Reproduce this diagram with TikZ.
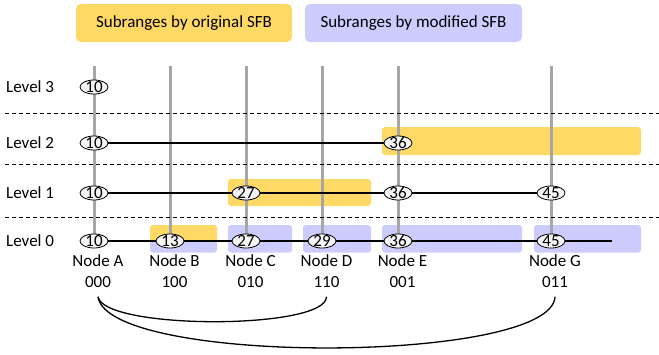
\documentclass[tikz,border=0pt]{standalone}
\usepackage{fontspec}
\setmainfont{Carlito}
\usetikzlibrary{shapes.geometric}
\definecolor{yel}{RGB}{255,217,102}
\definecolor{pur}{RGB}{204,204,255}
\definecolor{gry}{RGB}{166,166,166}
\newcommand\numtxt[1]{\smash{\raisebox{-0.5\height}{#1}}}
\pgfdeclarelayer{bg}
\pgfdeclarelayer{mid}
\pgfsetlayers{bg,mid,main}
\begin{document}
\begin{tikzpicture}[x=1pt,y=-1pt,font=\fontsize{17}{20}\selectfont,
  num/.style={ellipse,draw,fill=gray!8,line width=0.8pt,minimum width=28pt,minimum height=14pt,inner sep=0pt},
  lvl/.style={anchor=west,inner sep=0pt},
  lbl/.style={inner sep=0pt},
  gridline/.style={draw=gry,line width=3pt},
  conn/.style={draw,line width=1.2pt},
  arc/.style={draw,line width=1.3pt},
  sep/.style={draw,dash pattern=on 4pt off 3pt,line width=0.9pt},
  legend/.style={rounded corners=5pt,minimum height=38pt,inner sep=0pt}]
\useasboundingbox (0,0) rectangle (659,354);

% legend
\node[legend,fill=yel,minimum width=216pt] (leg1) at (184,23) {Subranges by original SFB};
\node[legend,fill=pur,minimum width=217pt] (leg2) at (413.5,23) {Subranges by modified SFB};

% level labels
\node[lvl] (L3) at (6,87) {Level 3};
\node[lvl] (L2) at (6,143) {Level 2};
\node[lvl] (L1) at (6,193) {Level 1};
\node[lvl] (L0) at (6,241) {Level 0};

% separators
\coordinate (s1l) at (5,113.7); \coordinate (s1r) at (659,113.7);
\coordinate (s2l) at (5,164);   \coordinate (s2r) at (659,164);
\coordinate (s3l) at (5,217.3); \coordinate (s3r) at (659,217.3);
\draw[sep] (s1l) -- (s1r);
\draw[sep] (s2l) -- (s2r);
\draw[sep] (s3l) -- (s3r);

% subrange boxes
\begin{pgfonlayer}{bg}
\fill[yel,rounded corners=3pt] (382,127) rectangle (641,155);
\fill[yel,rounded corners=3pt] (228,179) rectangle (371,206);
\fill[pur,rounded corners=3pt] (150,225) rectangle (217,252.7);
\fill[yel] (150,240.5) [rounded corners=3pt] -- (150,225) -- (217,225) [sharp corners] -- (217,240.5) -- cycle;
\fill[pur,rounded corners=3pt] (228,225) rectangle (292,252.7);
\fill[pur,rounded corners=3pt] (303,225) rectangle (371,252.7);
\fill[pur,rounded corners=3pt] (382,225) rectangle (522,252.7);
\fill[pur,rounded corners=3pt] (534,225) rectangle (641,252.7);
\end{pgfonlayer}

% value nodes
\node[num] (a3) at (94,87) {\numtxt{10}};
\node[num] (a2) at (94,143) {\numtxt{10}};
\node[num] (e2) at (398,143) {\numtxt{36}};
\node[num] (a1) at (94,193) {\numtxt{10}};
\node[num] (c1) at (246,193) {\numtxt{27}};
\node[num] (e1) at (398,193) {\numtxt{36}};
\node[num] (g1) at (551,193) {\numtxt{45}};
\node[num] (a0) at (94,241) {\numtxt{10}};
\node[num] (b0) at (170,241) {\numtxt{13}};
\node[num] (c0) at (246,241) {\numtxt{27}};
\node[num] (d0) at (322,241) {\numtxt{29}};
\node[num] (e0) at (398,241) {\numtxt{36}};
\node[num] (g0) at (551,241) {\numtxt{45}};
\coordinate (end0) at (612,241);

% node columns tops
\coordinate (tA) at (94,66);
\coordinate (tB) at (170,66);
\coordinate (tC) at (246,66);
\coordinate (tD) at (322,66);
\coordinate (tE) at (398,66);
\coordinate (tG) at (551,66);

\begin{pgfonlayer}{mid}
\draw[gridline] (tA) -- (a0.center);
\draw[gridline] (tB) -- (b0.center);
\draw[gridline] (tC) -- (c0.center);
\draw[gridline] (tD) -- (d0.center);
\draw[gridline] (tE) -- (e0.center);
\draw[gridline] (tG) -- (g0.center);
\draw[conn] (a2) -- (e2);
\draw[conn] (a1) -- (c1) -- (e1) -- (g1);
\draw[conn] (a0) -- (b0) -- (c0) -- (d0) -- (e0) -- (g0) -- (end0);
\end{pgfonlayer}

% node labels
\node[lbl] (nA) at (98,261) {Node A};
\node[lbl] (nB) at (174.5,261) {Node B};
\node[lbl] (nC) at (250.5,261) {Node C};
\node[lbl] (nD) at (326.5,261) {Node D};
\node[lbl] (nE) at (402.5,261) {Node E};
\node[lbl] (nG) at (555,261) {Node G};
\node[lbl] (cA) at (98,282) {000};
\node[lbl] (cB) at (174.5,282) {100};
\node[lbl] (cC) at (250.5,282) {010};
\node[lbl] (cD) at (326.5,282) {110};
\node[lbl] (cE) at (402.5,282) {001};
\node[lbl] (cG) at (555,282) {011};

% links
\draw[arc] ([yshift=-9pt]cA.south) .. controls (104,330) and (326,330) .. ([yshift=-9pt]cD.south);
\draw[arc] ([yshift=-9pt]cA.south) .. controls (108,366) and (552,364) .. ([yshift=-9pt]cG.south);
\end{tikzpicture}
\end{document}
